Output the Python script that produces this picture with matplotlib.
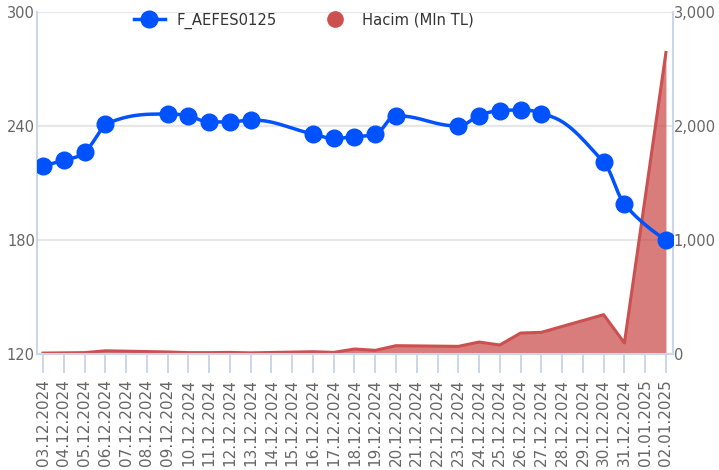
import numpy as np
import matplotlib.pyplot as plt
from matplotlib.lines import Line2D
from matplotlib.ticker import FuncFormatter

plt.rcParams['font.family'] = ['DejaVu Sans']

# every calendar day on the x axis
dates = ['03.12.2024', '04.12.2024', '05.12.2024', '06.12.2024', '07.12.2024',
         '08.12.2024', '09.12.2024', '10.12.2024', '11.12.2024', '12.12.2024',
         '13.12.2024', '14.12.2024', '15.12.2024', '16.12.2024', '17.12.2024',
         '18.12.2024', '19.12.2024', '20.12.2024', '21.12.2024', '22.12.2024',
         '23.12.2024', '24.12.2024', '25.12.2024', '26.12.2024', '27.12.2024',
         '28.12.2024', '29.12.2024', '30.12.2024', '31.12.2024', '01.01.2025',
         '02.01.2025']

# trading days only (weekends / holiday are empty)
trade_days = ['03.12.2024', '04.12.2024', '05.12.2024', '06.12.2024',
              '09.12.2024', '10.12.2024', '11.12.2024', '12.12.2024', '13.12.2024',
              '16.12.2024', '17.12.2024', '18.12.2024', '19.12.2024', '20.12.2024',
              '23.12.2024', '24.12.2024', '25.12.2024', '26.12.2024', '27.12.2024',
              '30.12.2024', '31.12.2024', '02.01.2025']
price = [218.9, 222.1, 226.3, 241.0,
         246.3, 245.3, 242.1, 242.1, 243.2,
         235.8, 233.5, 234.4, 235.6, 245.4,
         240.0, 245.4, 248.1, 248.4, 246.3,
         221.0, 199.0, 180.0]
volume = [8, 10, 12, 28,
          18, 12, 12, 14, 10,
          20, 14, 44, 32, 73,
          67, 105, 79, 184, 190,
          345, 97, 2645]

left_ticks = [120, 180, 240, 300]
right_ticks = [0, 1000, 2000, 3000]

BLUE = '#0052ff'
RED = '#cc5050'
GRID = '#e6e6e6'
AXIS = '#ccd6eb'
LABEL = '#666666'


def hc_spline(xs, ys, smoothing=1.5, steps=30):
    # same control point rule as a highcharts spline
    n = len(xs)
    lc = [(x, y) for x, y in zip(xs, ys)]
    rc = list(lc)
    denom = smoothing + 1
    for i in range(1, n - 1):
        x, y = xs[i], ys[i]
        lx, ly = xs[i - 1], ys[i - 1]
        nx, ny = xs[i + 1], ys[i + 1]
        lcx = (smoothing * x + lx) / denom
        lcy = (smoothing * y + ly) / denom
        rcx = (smoothing * x + nx) / denom
        rcy = (smoothing * y + ny) / denom
        if rcx != lcx:
            corr = (rcy - lcy) * (rcx - x) / (rcx - lcx) + y - rcy
            lcy += corr
            rcy += corr
        if lcy > ly and lcy > y:
            lcy = max(ly, y)
            rcy = 2 * y - lcy
        elif lcy < ly and lcy < y:
            lcy = min(ly, y)
            rcy = 2 * y - lcy
        if rcy > ny and rcy > y:
            rcy = max(ny, y)
            lcy = 2 * y - rcy
        elif rcy < ny and rcy < y:
            rcy = min(ny, y)
            lcy = 2 * y - rcy
        lc[i] = (lcx, lcy)
        rc[i] = (rcx, rcy)
    t = np.linspace(0, 1, steps)[1:]
    px, py = [xs[0]], [ys[0]]
    for i in range(1, n):
        p0 = (xs[i - 1], ys[i - 1])
        p1 = rc[i - 1]
        p2 = lc[i]
        p3 = (xs[i], ys[i])
        a, b, c, d = (1 - t) ** 3, 3 * (1 - t) ** 2 * t, 3 * (1 - t) * t ** 2, t ** 3
        px.extend(a * p0[0] + b * p1[0] + c * p2[0] + d * p3[0])
        py.extend(a * p0[1] + b * p1[1] + c * p2[1] + d * p3[1])
    return np.array(px), np.array(py)


xi = np.array([dates.index(d) for d in trade_days], dtype=float)

fig = plt.figure(figsize=(7.19, 4.70), dpi=100)
fig.patch.set_facecolor('white')
ax = fig.add_axes([37 / 719, 1 - 354 / 470, (673 - 37) / 719, (354 - 12) / 470])
ax2 = ax.twinx()

# volume area on the right axis, underneath
ax2.fill_between(xi, volume, 0, color=RED, alpha=0.75, lw=0, zorder=2)
ax2.plot(xi, volume, color=RED, lw=2.2, zorder=3, solid_joinstyle='round')
ax2.set_ylim(0, 3000)
ax2.set_yticks(right_ticks)
ax2.yaxis.set_major_formatter(FuncFormatter(lambda v, p: f'{int(v):,}'))
ax2.yaxis.grid(True, color=GRID, lw=1.5, zorder=0)
ax2.set_axisbelow(True)

# price spline on top
ax.set_zorder(ax2.get_zorder() + 1)
ax.patch.set_visible(False)
sx, sy = hc_spline(xi, price)
ax.plot(sx, sy, color=BLUE, lw=2.5, zorder=4, solid_capstyle='round')
ax.plot(xi, price, ls='none', marker='o', ms=12, color=BLUE, zorder=5)
ax.set_ylim(120, 300)
ax.set_yticks(left_ticks)
ax.set_xlim(-0.29, 30.34)
ax.set_xticks(range(len(dates)))
ax.set_xticklabels(dates, rotation=90, va='top', ha='center')

for a in (ax, ax2):
    for s in a.spines.values():
        s.set_visible(False)
ax.spines['left'].set_visible(True)
ax.spines['left'].set_color(AXIS)
ax.spines['left'].set_linewidth(1.5)
ax.spines['bottom'].set_visible(True)
ax.spines['bottom'].set_color(AXIS)
ax.spines['bottom'].set_linewidth(1.5)
ax2.spines['right'].set_visible(True)
ax2.spines['right'].set_color(AXIS)
ax2.spines['right'].set_linewidth(1.5)

ax.tick_params(axis='x', length=13.5, width=1.4, color=AXIS, labelcolor=LABEL,
               labelsize=11, pad=4.5)
ax.tick_params(axis='y', length=0, labelcolor=LABEL, labelsize=10.5, pad=1.5)
ax2.tick_params(axis='y', length=0, labelcolor=LABEL, labelsize=10.5, pad=0.5)

h_price = Line2D([], [], color=BLUE, lw=2.5, marker='o', ms=12)
h_vol = Line2D([], [], color=RED, lw=0, marker='o', ms=11)
fig.legend([h_price, h_vol], ['F_AEFES0125', 'Hacim (Mln TL)'],
           loc='center left', bbox_to_anchor=(134 / 719, 1 - 20.7 / 470),
           ncol=2, frameon=False, fontsize=10.6, handlelength=2.1,
           handletextpad=0.8, columnspacing=2.9, borderpad=0,
           borderaxespad=0, labelcolor='#333333')

fig.savefig('out.png', dpi=100, facecolor='white')
